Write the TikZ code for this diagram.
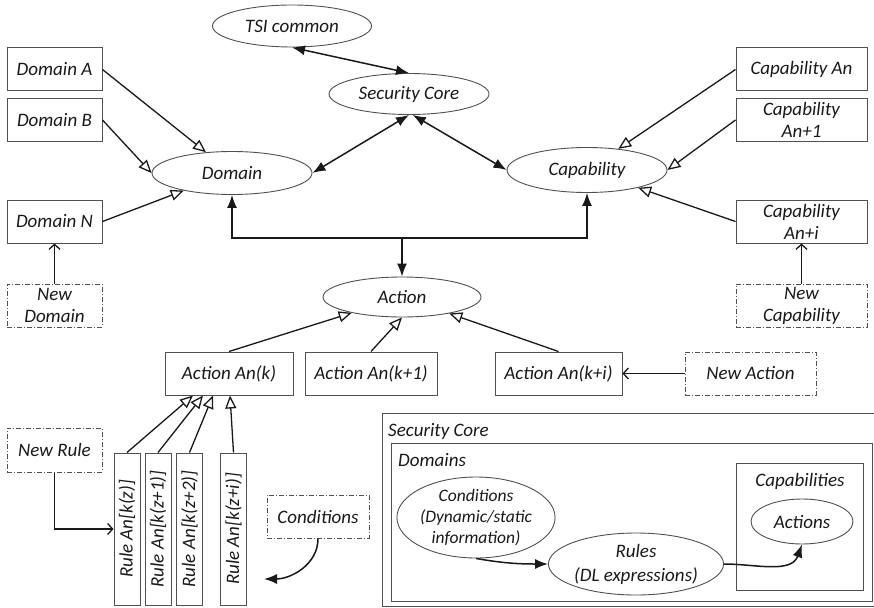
\documentclass[tikz,border=0pt]{standalone}
\usepackage{fontspec}
\setmainfont{Carlito}
\usetikzlibrary{shapes.geometric,arrows.meta,positioning}
\definecolor{ink}{RGB}{25,25,25}
\definecolor{edge}{RGB}{80,80,80}

\begin{document}
\begin{tikzpicture}[x=1pt,y=-1pt,
  every node/.style={font=\fontsize{19}{22}\selectfont\itshape,text=ink},
  box/.style={rectangle,draw=edge,line width=1pt,minimum height=43,inner xsep=3pt,inner ysep=1pt,align=center},
  newbox/.style={box,dash pattern=on 5pt off 2pt on 1pt off 2pt},
  oval/.style={ellipse,draw=edge,line width=0.9pt,inner sep=0pt,align=center},
  rulebox/.style={box,rotate=90,minimum width=152,minimum height=26,inner sep=0pt},
  frame/.style={rectangle,draw=edge,line width=1pt,anchor=north west,inner sep=0pt},
  isa/.style={draw=ink,line width=1.3pt,-{Triangle[open,length=13pt,width=11pt]}},
  both/.style={draw=ink,line width=1.5pt,{Latex[length=13pt,width=10pt]}-{Latex[length=13pt,width=10pt]}},
  push/.style={draw=ink,line width=1.5pt,-{Latex[length=13pt,width=10pt]}},
  feed/.style={draw=ink,line width=1.3pt,-{Straight Barb[length=5pt,width=11pt]}}]
\useasboundingbox (0,0) rectangle (874,607);

% ontology
\node[oval,minimum width=159,minimum height=42] (tsi) at (292,26) {TSI common};
\node[oval,minimum width=160,minimum height=41] (core) at (409,94) {Security Core};
\node[oval,minimum width=160,minimum height=43] (dom) at (232,173) {Domain};
\node[oval,minimum width=160,minimum height=45] (cap) at (587,170) {Capability};
\node[oval,minimum width=158,minimum height=40] (act) at (402,297) {Action};

\node[box,minimum width=95] (domA) at (54.5,69.5) {Domain A};
\node[box,minimum width=95] (domB) at (54.5,120) {Domain B};
\node[box,minimum width=95] (domN) at (54.5,221.5) {Domain N};
\node[newbox,minimum width=95] (newdom) at (54.5,305.5) {New\\Domain};

\node[box,minimum width=131] (capAn) at (801.5,69.5) {Capability An};
\node[box,minimum width=131] (capAn1) at (801.5,120) {Capability\\An+1};
\node[box,minimum width=131] (capAni) at (801.5,221.5) {Capability\\An+i};
\node[newbox,minimum width=131] (newcap) at (801.5,305.5) {New\\Capability};

\node[box,minimum width=128] (actk) at (229,373.5) {Action An(k)};
\node[box,minimum width=132] (actk1) at (371,373.5) {Action An(k+1)};
\node[box,minimum width=127] (actki) at (558.5,373.5) {Action An(k+i)};
\node[newbox,minimum width=131] (newact) at (750.5,373.5) {New Action};

\node[newbox,minimum width=95,minimum height=44] (newrule) at (54.5,450) {New Rule};
\node[rulebox] (rule0) at (127,529) {Rule An[k(z)]};
\node[rulebox] (rule1) at (158,529) {Rule An[k(z+1)]};
\node[rulebox] (rule2) at (189.5,529) {Rule An[k(z+2)]};
\node[rulebox] (rulei) at (233.5,529) {Rule An[k(z+i)]};
\node[newbox,minimum width=102] (conds) at (318,516.5) {Conditions};

% security core inset
\node[frame,minimum width=496,minimum height=193] (scbox) at (382,413) {};
\node[anchor=north west,inner sep=0pt] (sctitle) at (388,423) {Security Core};
\node[frame,minimum width=481,minimum height=158] (dombox) at (391,443) {};
\node[anchor=north west,inner sep=0pt] (domtitle) at (398,453) {Domains};
\node[frame,minimum width=127,minimum height=127] (capbox) at (736,463) {};
\node[anchor=north,inner sep=0pt] (captitle) at (800,473) {Capabilities};
\node[oval,minimum width=156,minimum height=81,font=\fontsize{17.5}{21}\selectfont\itshape] (condE) at (476,517.5) {Conditions\\(Dynamic/static\\information)};
\node[oval,minimum width=166,minimum height=62,font=\fontsize{19}{24}\selectfont\itshape] (rules) at (636,564) {Rules\\(DL expressions)};
\node[oval,minimum width=102,minimum height=45] (acts) at (802,521.5) {Actions};

\coordinate (hub) at (402,238);
\coordinate (condtip) at (264,579);

\draw[both] (tsi.south) -- (core.north);
\draw[both] (core.south) -- (dom.east);
\draw[both] (core.-80) -- (cap.west);
\draw[isa] (domA.east) -- (dom);
\draw[isa] (domB.east) -- (dom.west);
\draw[isa] (domN.east) -- (dom.200);
\draw[isa] (capAn.west) -- (cap);
\draw[isa] (capAn1.west) -- (cap.east);
\draw[isa] (capAni.west) -- (cap);
\draw[feed] (newdom) -- (domN);
\draw[feed] (newcap) -- (capAni);
\draw[both] (dom.south) |- (hub) -| (cap.south);
\draw[push] (hub) -- (act.north);
\draw[isa] (actk.north) -- (act);
\draw[isa] (actk1.north) -- (act.south);
\draw[isa] (actki.north) -- (act);
\draw[feed] (newact) -- (actki);
\draw[isa] (rule0.east) -- ([xshift=-36pt]actk.south);
\draw[isa] (rule1.east) -- ([xshift=-26pt]actk.south);
\draw[isa] (rule2.east) -- ([xshift=-16pt]actk.south);
\draw[isa] (rulei.east) -- ([xshift=1pt]actk.south);
\draw[feed] (newrule.south) |- (rule0.north);
\draw[push] (conds.south) to[out=-90,in=0] (condtip);
\draw[push] (condE.south) to[out=-10,in=180] (rules.west);
\draw[push] (rules.east) to[out=0,in=-110] (acts.south);

\end{tikzpicture}
\end{document}
